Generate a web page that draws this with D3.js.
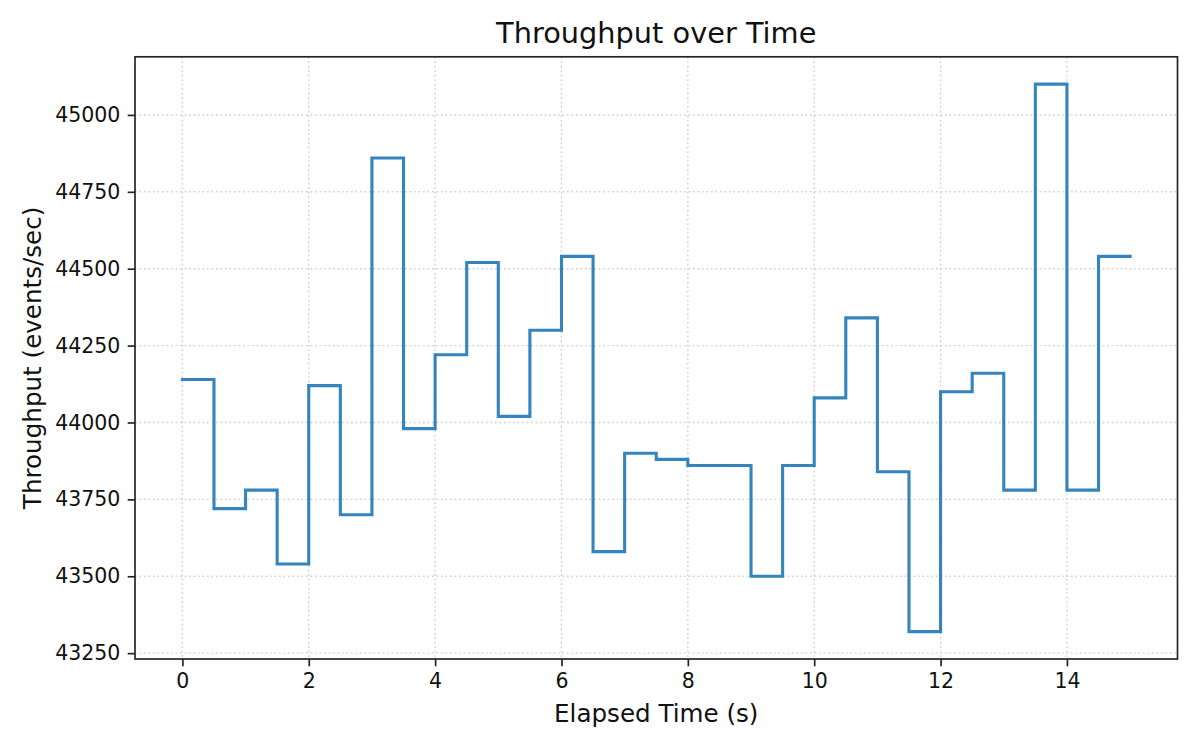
<!DOCTYPE html>
<html><head><meta charset="utf-8">
<script src="https://cdn.jsdelivr.net/npm/d3@7"></script>
<style>body{margin:0;background:#fff}svg{font-family:"DejaVu Sans",sans-serif}</style>
</head><body><svg id="c" width="1200" height="750"></svg>
<script>
const times = [0,0.5,1,1.5,2,2.5,3,3.5,4,4.5,5,5.5,6,6.5,7,7.5,8,8.5,9,9.5,10,10.5,11,11.5,12,12.5,13,13.5,14,14.5,15];
const throughput = [44140,43720,43780,43540,44120,43700,44860,43980,44220,44520,44020,44300,44540,43580,43900,43880,43860,43860,43500,43860,44080,44340,43840,43320,44100,44160,43780,45100,43780,44540,44540];
const xTicks = [0,2,4,6,8,10,12,14];
const yTicks = [43250,43500,43750,44000,44250,44500,44750,45000];

const svg = d3.select("#c");
const L=135,R=1177.5,T=56.8,B=659;
const x = d3.scaleLinear().domain([-0.75,15.75]).range([L,R]);
const y = d3.scaleLinear().domain([43231,45189]).range([B,T]);

// grid
svg.append("g").selectAll("line").data(xTicks).join("line")
  .attr("x1",d=>x(d)).attr("x2",d=>x(d)).attr("y1",T).attr("y2",B)
  .attr("stroke","#d0d0d0").attr("stroke-width",1.4).attr("stroke-dasharray","1.7,2.8");
svg.append("g").selectAll("line").data(yTicks).join("line")
  .attr("x1",L).attr("x2",R).attr("y1",d=>y(d)).attr("y2",d=>y(d))
  .attr("stroke","#d0d0d0").attr("stroke-width",1.4).attr("stroke-dasharray","1.7,2.8");

// line
const data = times.map((t,i)=>[t,throughput[i]]);
svg.append("path").datum(data)
  .attr("d", d3.line().x(d=>x(d[0])).y(d=>y(d[1])).curve(d3.curveStepAfter))
  .attr("fill","none").attr("stroke","#1f77b4").attr("stroke-opacity",0.9)
  .attr("stroke-width",3.1).attr("stroke-linejoin","miter").attr("stroke-linecap","square");

// axes
const xa = svg.append("g").attr("transform",`translate(0,${B})`)
  .call(d3.axisBottom(x).tickValues(xTicks).tickSize(7.3).tickPadding(7.3).tickFormat(d3.format("d")));
const ya = svg.append("g").attr("transform",`translate(${L},0)`)
  .call(d3.axisLeft(y).tickValues(yTicks).tickSize(7.3).tickPadding(7.3).tickFormat(d3.format("d")));
[xa,ya].forEach(a=>{
  a.select(".domain").remove();
  a.attr("font-size",null).attr("font-family",null);
  a.selectAll(".tick line").attr("stroke","#222").attr("stroke-width",1.67);
  a.selectAll(".tick text").attr("fill","#111").style("font-size","20.5px").style("font-family","DejaVu Sans");
});
svg.append("rect").attr("x",L).attr("y",T).attr("width",R-L).attr("height",B-T)
  .attr("fill","none").attr("stroke","#222").attr("stroke-width",1.67);

// labels
svg.append("text").attr("x",(L+R)/2).attr("y",43).attr("text-anchor","middle")
  .style("font-size","28.8px").attr("fill","#111").text("Throughput over Time");
svg.append("text").attr("x",(L+R)/2).attr("y",721.5).attr("text-anchor","middle")
  .style("font-size","24.6px").attr("fill","#111").text("Elapsed Time (s)");
svg.append("text").attr("transform",`translate(41,${(T+B)/2}) rotate(-90)`).attr("text-anchor","middle")
  .style("font-size","24.6px").attr("fill","#111").text("Throughput (events/sec)");
</script></body></html>
